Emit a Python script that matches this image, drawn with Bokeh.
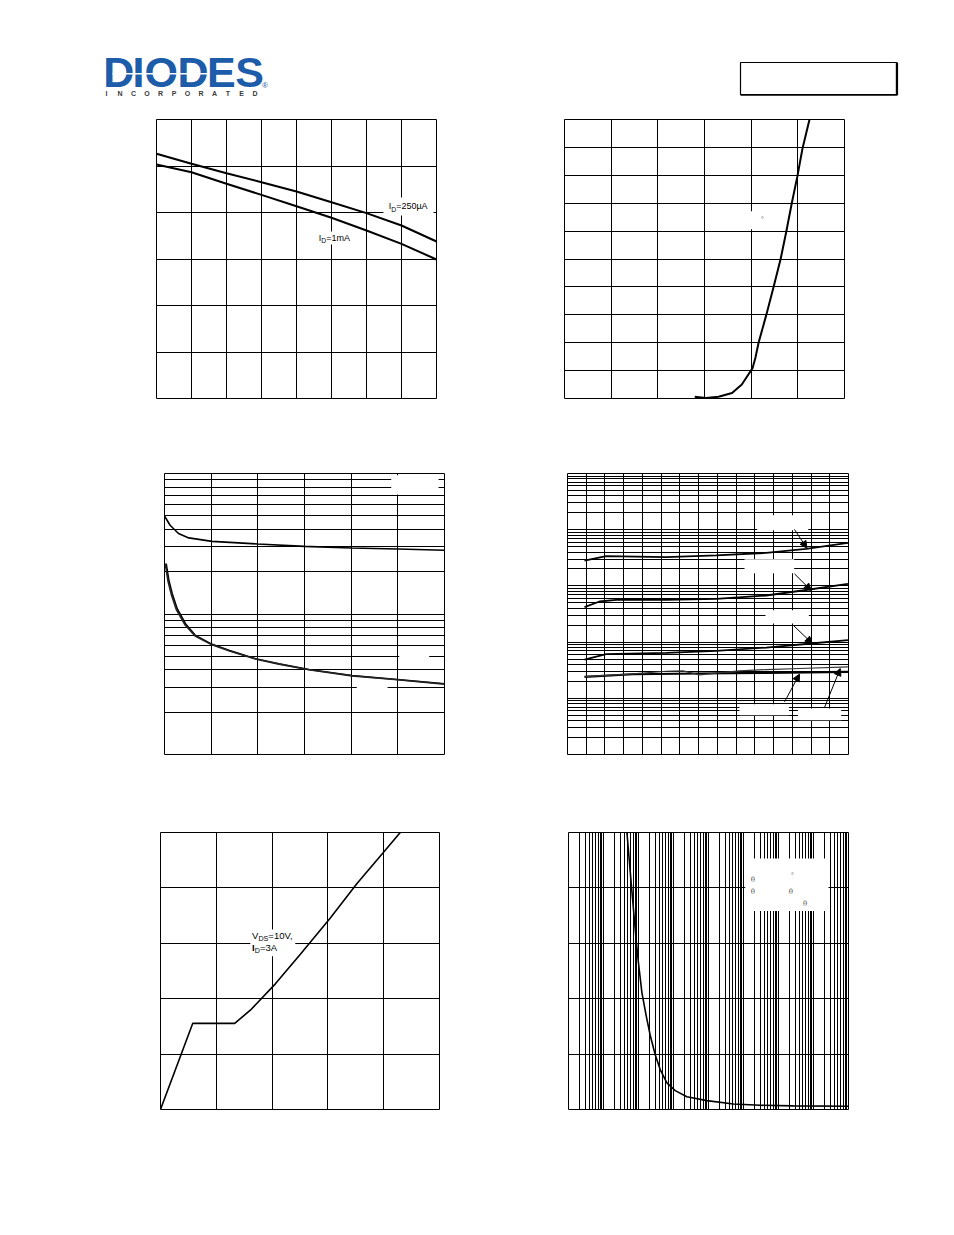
import numpy as np
from bokeh.plotting import figure
from bokeh.layouts import column, row
from bokeh.models import Range1d, FixedTicker, Grid, Arrow, NormalHead
from bokeh.core.properties import value
from bokeh.embed import file_html
from bokeh.resources import INLINE

# ---------------- data ----------------
# Chart 1: threshold voltage vs temperature
c1_temp = [-50, -25, 0, 25, 50, 75, 100, 125, 150]
c1_vth_250uA = [2.631, 2.524, 2.423, 2.326, 2.226, 2.111, 1.993, 1.860, 1.688]
c1_vth_1mA = [2.516, 2.433, 2.309, 2.190, 2.068, 1.943, 1.806, 1.663, 1.495]

# Chart 2: transfer curve
c2_vgs = [2.79, 3.03, 3.30, 3.59, 3.80, 3.94, 4.03, 4.09, 4.16, 4.32, 4.48, 4.63, 4.75, 4.87, 4.99, 5.10, 5.25]
c2_id = [0.06, 0.02, 0.06, 0.20, 0.50, 0.86, 1.09, 1.45, 2.01, 2.97, 4.00, 4.99, 5.96, 7.00, 7.96, 8.96, 10.0]

# Chart 3: capacitances vs VDS
c3_vds_ciss = [0, 0.6, 1.5, 2.6, 5.1, 10, 15, 20, 25, 30]
c3_ciss = [499, 428, 374, 348, 329, 315, 303, 295, 290, 284]
c3_vds_coss = [0.18, 0.47, 0.83, 1.36, 2.25, 3.32, 5.11, 6.9, 9.75, 12.26, 15.47, 20.08, 24.96, 30]
c3_coss = [228.5, 173.6, 139.6, 109.2, 85.3, 70.4, 60.8, 55.1, 48.1, 44.3, 40.3, 36.5, 34.2, 31.9]
c3_vds_crss = [0.08, 0.38, 0.74, 1.28, 2.18, 3.28, 5.08, 6.9, 9.75, 12.26, 15.47, 20.08, 24.96, 30]
c3_crss = [228.0, 171.0, 137.0, 107.0, 84.0, 69.8, 60.3, 54.7, 47.8, 44.0, 40.1, 36.3, 34.0, 31.7]

# Chart 4: leakage curves vs VDS (five temperatures)
c4_x_a = [1.815, 4.13, 10.54, 15.88, 21.21, 25.48, 29.94]
c4_y_a = [2.83, 3.38, 3.24, 3.48, 3.87, 4.55, 5.82]
c4_x_b = [1.815, 3.42, 5.2, 10.54, 15.88, 21.21, 25.84, 29.94]
c4_y_b = [0.418, 0.528, 0.564, 0.564, 0.588, 0.675, 0.863, 1.086]
c4_x_c = [1.815, 4.13, 10.54, 15.88, 21.21, 26.02, 29.94]
c4_y_c = [0.049, 0.061, 0.0643, 0.0697, 0.080, 0.0944, 0.108]
c4_x_d = [1.815, 6.98, 14.09, 21.21, 29.94]
c4_y_d = [0.024, 0.0268, 0.0276, 0.0283, 0.0295]
c4_x_e = [1.815, 6.98, 10.54, 12.32, 14.09, 15.88, 18.36, 21.21, 24.77, 29.94]
c4_y_e = [0.0244, 0.0272, 0.0303, 0.0307, 0.0261, 0.0280, 0.0307, 0.0325, 0.0339, 0.0362]

# Chart 5: gate charge
c5_qg = [0, 1.157, 2.66, 3.22, 4.117, 5.013, 6.087, 7.043, 7.995, 8.593]
c5_vgs = [0, 3.111, 3.111, 3.585, 4.537, 5.607, 6.914, 8.161, 9.287, 10.0]

# Chart 6: single pulse power vs time
c6_t = [4.67e-4, 6.18e-4, 8.59e-4, 1.0e-3, 1.25e-3, 1.66e-3, 2.16e-3, 3.0e-3, 4.17e-3,
        6.48e-3, 1.12e-2, 2.41e-2, 9.0e-2, 0.518, 3.0, 26.8, 1000]
c6_p = [50, 40.9, 30.5, 26.4, 21.1, 16.9, 13.4, 9.9, 7.2, 4.8, 3.4, 2.3, 1.6, 1.0, 0.76, 0.66, 0.58]

# grid tick values
c1_xticks = list(range(-50, 151, 25)); c1_yticks = [0.5, 1.0, 1.5, 2.0, 2.5]
c2_xticks = [1, 2, 3, 4, 5]; c2_yticks = list(range(1, 10))
c3_xticks = [5, 10, 15, 20, 25]; c3_yticks = [k * 10.0 ** n for n in (1, 2) for k in range(1, 10)]
c4_xticks = list(range(2, 30, 2)); c4_yticks = [k * 10.0 ** n for n in range(-3, 2) for k in range(1, 10)]
c5_xticks = [2, 4, 6, 8]; c5_yticks = [2, 4, 6, 8]
c6_xticks = [k * 10.0 ** n for n in range(-5, 3) for k in range(1, 10)]; c6_yticks = [10, 20, 30, 40]

FONT = value("Liberation Sans")
W = {'I': 278, 'D': 722, 'S': 667, 'V': 667, '=': 584, '0': 556, '1': 556, '2': 556, '3': 556,
     '5': 556, 'µ': 577, 'A': 667, 'm': 833, ',': 278}


def make_fig(w, h, left, top, fw, fh, xr, yr, xticks, yticks, xt="linear", yt="linear"):
    p = figure(width=w, height=h, x_range=xr, y_range=yr, x_axis_type=xt, y_axis_type=yt,
               x_axis_location=None, y_axis_location=None, toolbar_location=None,
               output_backend="svg", title=None,
               min_border_left=left, min_border_top=top,
               min_border_right=w - left - fw, min_border_bottom=h - top - fh)
    p.outline_line_color = "black"
    p.outline_line_width = 1
    p.background_fill_color = "white"
    p.border_fill_color = "white"
    for g in p.grid:
        g.visible = False
    p.add_layout(Grid(dimension=0, ticker=FixedTicker(ticks=list(xticks)),
                      grid_line_color="black", grid_line_width=1), "center")
    p.add_layout(Grid(dimension=1, ticker=FixedTicker(ticks=list(yticks)),
                      grid_line_color="black", grid_line_width=1), "center")
    return p


def white_box(p, l, r, b, t):
    p.quad(left=[l], right=[r], bottom=[b], top=[t], fill_color="white", line_color=None)


def sub_text(p, x, y, parts, size=9.0):
    off = 0.0
    for txt, kind in parts:
        fs = size * 0.75 if kind == "sub" else size
        dy = size * 0.32 if kind == "sub" else 0
        p.text(x=[x], y=[y], text=[txt], x_offset=off, y_offset=dy, text_font=FONT,
               text_font_size=f"{fs:.1f}px",
               text_font_style="bold" if kind == "bold" else "normal",
               text_color="black", text_baseline="middle", text_align="left")
        off += sum(W.get(c, 556) for c in txt) / 1000 * fs


def arrow(p, x0, y0, x1, y1):
    p.add_layout(Arrow(end=NormalHead(size=7, fill_color="black", line_color="black", line_width=1),
                       x_start=x0, y_start=y0, x_end=x1, y_end=y1,
                       line_color="black", line_width=1))


# ---------------- header (page pixel coordinates) ----------------
hdr = figure(width=944, height=108, x_range=Range1d(0, 944), y_range=Range1d(108, 0),
             x_axis_location=None, y_axis_location=None, toolbar_location=None,
             output_backend="svg", title=None, min_border=0)
hdr.outline_line_color = None
hdr.grid.visible = False
hdr.background_fill_color = "white"
hdr.border_fill_color = "white"
BLUE = "#1c5ca8"
logo_letters = list("DIODES")
logo_cx = [118.3, 138.0, 160.8, 192.5, 220.8, 249.2]
hdr.text(x=logo_cx, y=[71.5] * 6, text=logo_letters, text_font=FONT, text_font_size="43px",
         text_font_style="bold", text_color=BLUE, text_align="center", text_baseline="middle")
hdr.segment(x0=[112], y0=[73.3], x1=[207], y1=[73.3], line_color="white", line_width=1.4)
inc = list("INCORPORATED")
hdr.text(x=list(106 + 13.5 * np.arange(len(inc))), y=[92.5] * len(inc), text=inc, text_font=FONT,
         text_font_size="7px", text_font_style="bold", text_color="#3a3a3a",
         text_align="center", text_baseline="middle")
hdr.text(x=[264.5], y=[84.5], text=["®"], text_font=FONT, text_font_size="8px",
         text_color=BLUE, text_align="center", text_baseline="middle")
hdr.quad(left=[740], right=[896], top=[62], bottom=[94], fill_color=None,
         line_color="black", line_width=1.2)
hdr.segment(x0=[896.5], y0=[62], x1=[896.5], y1=[94.5], line_color="black", line_width=2.2)
hdr.segment(x0=[740], y0=[94.5], x1=[897], y1=[94.5], line_color="black", line_width=1.6)

# ---------------- chart 1 ----------------
p1 = make_fig(477, 360, 156, 11, 280, 279, Range1d(-50, 150), Range1d(0, 3), c1_xticks, c1_yticks)
white_box(p1, 112.1, 147.9, 1.968, 2.161)
white_box(p1, 65.7, 91.4, 1.656, 1.796)
p1.line(c1_temp, c1_vth_250uA, line_color="black", line_width=2)
p1.line(c1_temp, c1_vth_1mA, line_color="black", line_width=2)
sub_text(p1, 115.9, 2.065, [("I", "n"), ("D", "sub"), ("=250µA", "n")])
sub_text(p1, 65.9, 1.726, [("I", "n"), ("D", "sub"), ("=1mA", "n")])

# ---------------- chart 2 ----------------
p2 = make_fig(467, 360, 87, 9, 280, 281, Range1d(0, 6), Range1d(0, 10), c2_xticks, c2_yticks)
white_box(p2, 3.66, 4.73, 6.07, 6.71)
p2.line(c2_vgs, c2_id, line_color="black", line_width=2)
p2.text(x=[4.243], y=[6.41], text=["°"], text_font=FONT, text_font_size="7px",
        text_color="#555555", text_align="center", text_baseline="middle")

# ---------------- chart 3 ----------------
p3 = make_fig(477, 355, 164, 5, 280, 281, Range1d(0, 30), Range1d(10, 1000), c3_xticks, c3_yticks,
              yt="log")
white_box(p3, 24.29, 29.36, 709, 972)
white_box(p3, 25.15, 28.36, 44.5, 55.1)
white_box(p3, 20.6, 23.9, 27.2, 32.6)
p3.line(c3_vds_ciss, c3_ciss, line_color="black", line_width=1.6)
p3.line(c3_vds_coss, c3_coss, line_color="black", line_width=1.6)
p3.line(c3_vds_crss, c3_crss, line_color="#222222", line_width=1.6)

# ---------------- chart 4 ----------------
p4 = make_fig(467, 355, 90, 5, 281, 281, Range1d(0, 30), Range1d(1e-3, 1e2), c4_xticks, c4_yticks,
              yt="log")
white_box(p4, 20.25, 25.7, 9.8, 18.1)
white_box(p4, 18.9, 24.2, 1.68, 2.99)
white_box(p4, 21.14, 25.77, 0.214, 0.370)
white_box(p4, 18.36, 23.64, 0.0050, 0.00785)
white_box(p4, 24.6, 29.22, 0.00407, 0.00659)
p4.line(c4_x_a, c4_y_a, line_color="black", line_width=1.8)
p4.line(c4_x_b, c4_y_b, line_color="black", line_width=1.8)
p4.line(c4_x_c, c4_y_c, line_color="black", line_width=1.8)
p4.line(c4_x_d, c4_y_d, line_color="black", line_width=2.2)
p4.line(c4_x_e, c4_y_e, line_color="#333333", line_width=1.2)
arrow(p4, 24.23, 10.1, 25.56, 4.69)
arrow(p4, 24.23, 1.64, 26.02, 0.828)
arrow(p4, 23.99, 0.208, 26.13, 0.0944)
arrow(p4, 23.17, 0.00863, 24.77, 0.0269)
arrow(p4, 27.44, 0.00686, 29.12, 0.0339)

# ---------------- chart 5 ----------------
p5 = make_fig(477, 365, 160, 9, 279, 281, Range1d(0, 10), Range1d(0, 10), c5_xticks, c5_yticks)
white_box(p5, 3.22, 4.83, 5.53, 6.50)
p5.line(c5_qg, c5_vgs, line_color="black", line_width=1.6)
sub_text(p5, 3.283, 6.265, [("V", "n"), ("DS", "sub"), ("=10V,", "n")], size=9.5)
sub_text(p5, 3.283, 5.837, [("I", "bold"), ("D", "sub"), ("=3A", "n")], size=9.5)

# ---------------- chart 6 ----------------
p6 = make_fig(467, 365, 91, 4, 280, 282, Range1d(1e-5, 1e3), Range1d(0, 50), c6_xticks, c6_yticks,
              xt="log")
white_box(p6, 1.12, 268.5, 35.83, 45.29)
p6.line(c6_t, c6_p, line_color="black", line_width=1.6)
SERIF = value("DejaVu Serif")
p6.text(x=[1.86, 1.86, 22.6, 57.9], y=[41.44, 39.2, 39.2, 37.14], text=["θ", "θ", "θ", "θ"],
        text_font=SERIF, text_font_size="7px", text_color="#555555",
        text_align="center", text_baseline="middle")
p6.text(x=[25.1], y=[42.2], text=["°"], text_font=FONT, text_font_size="7px",
        text_color="#555555", text_align="center", text_baseline="middle")

layout = column(hdr, row(p1, p2), row(p3, p4), row(p5, p6))
open("out.html", "w").write(file_html(layout, INLINE))
